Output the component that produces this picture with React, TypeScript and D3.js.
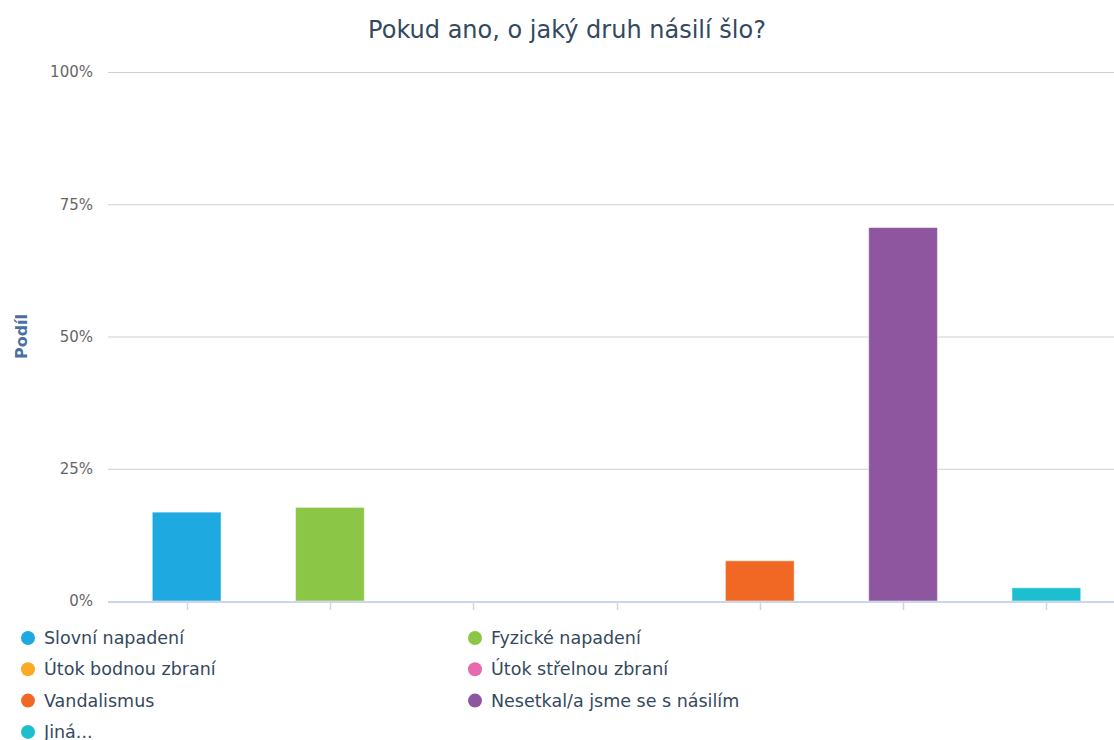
import React, { useEffect, useRef } from "react";
import * as d3 from "d3";

const categories = [
  "Slovní napadení",
  "Fyzické napadení",
  "Útok bodnou zbraní",
  "Útok střelnou zbraní",
  "Vandalismus",
  "Nesetkal/a jsme se s násilím",
  "Jiná...",
];
const values = [16.8, 17.7, 0, 0, 7.6, 70.6, 2.5];
const colors = ["#1fa9e1", "#8bc646", "#fbaa26", "#e769af", "#f16824", "#8f56a0", "#1dbfcf"];
const yTicks = [0, 25, 50, 75, 100];

const width = 1114;
const height = 740;

const App = () => {
  const svgRef = useRef<SVGSVGElement>(null);

  useEffect(() => {
    const svg = d3.select(svgRef.current);
    svg.selectAll("*").remove();

    const font = "'DejaVu Sans', sans-serif";

    // scales
    const x = d3.scaleBand().domain(categories).range([115, 1118]).padding(0);
    const y = d3.scaleLinear().domain([0, 100]).range([601, 72]);

    // title
    svg
      .append("text")
      .attr("x", 567)
      .attr("y", 38)
      .attr("text-anchor", "middle")
      .style("font-family", font)
      .style("font-size", "24px")
      .attr("fill", "#34495e")
      .text("Pokud ano, o jaký druh násilí šlo?");

    // grid + y labels
    const gy = svg.append("g");
    yTicks.forEach((t) => {
      if (t > 0) {
        gy.append("line")
          .attr("x1", 108)
          .attr("x2", 1114)
          .attr("y1", y(t) + 0.5)
          .attr("y2", y(t) + 0.5)
          .attr("stroke", "#d0d0d0")
          .attr("stroke-width", 1);
      }
      gy.append("text")
        .attr("x", 93)
        .attr("y", y(t))
        .attr("dy", "0.35em")
        .attr("text-anchor", "end")
        .style("font-family", font)
        .style("font-size", "15px")
        .attr("fill", "#666666")
        .text(`${t}%`);
    });

    // axis title
    svg
      .append("text")
      .attr("transform", `translate(27,${y(50)}) rotate(-90)`)
      .attr("text-anchor", "middle")
      .style("font-family", font)
      .style("font-size", "16px")
      .style("font-weight", "bold")
      .attr("fill", "#4a6fa0")
      .text("Podíl");

    // bars
    const bw = x.step() * 0.48;
    svg
      .append("g")
      .selectAll("rect")
      .data(values)
      .enter()
      .append("rect")
      .attr("x", (d, i) => x(categories[i])! + x.bandwidth() / 2 - bw / 2)
      .attr("y", (d) => y(d))
      .attr("width", bw)
      .attr("height", (d) => y(0) - y(d))
      .attr("fill", (d, i) => colors[i])
      .attr("stroke", "rgba(255,255,255,0.5)")
      .attr("stroke-width", 1);

    // x axis line + ticks
    const gx = svg.append("g");
    gx.append("line")
      .attr("x1", 108)
      .attr("x2", 1114)
      .attr("y1", y(0) + 1)
      .attr("y2", y(0) + 1)
      .attr("stroke", "#ccd6eb")
      .attr("stroke-width", 2);
    categories.forEach((c) => {
      const cx = Math.round(x(c)! + x.bandwidth() / 2) + 0.5;
      gx.append("line")
        .attr("x1", cx)
        .attr("x2", cx)
        .attr("y1", y(0) + 1)
        .attr("y2", y(0) + 9)
        .attr("stroke", "#ccd6eb")
        .attr("stroke-width", 1.5);
    });

    // legend
    const legend = svg.append("g");
    categories.forEach((c, i) => {
      const col = i % 2;
      const row = Math.floor(i / 2);
      const lx = col === 0 ? 28 : 475;
      const ly = 638 + row * 31.3;
      const g = legend.append("g").attr("transform", `translate(${lx},${ly})`);
      g.append("circle").attr("r", 7).attr("fill", colors[i]);
      g.append("text")
        .attr("x", 16)
        .attr("dy", "0.35em")
        .style("font-family", font)
        .style("font-size", "17.5px")
        .attr("fill", "#34495e")
        .text(c);
    });
  }, []);

  return (
    <div style={{ position: "absolute", left: 0, top: 0 }}>
      <svg ref={svgRef} width={width} height={height} style={{ display: "block" }} />
    </div>
  );
};

export default App;
